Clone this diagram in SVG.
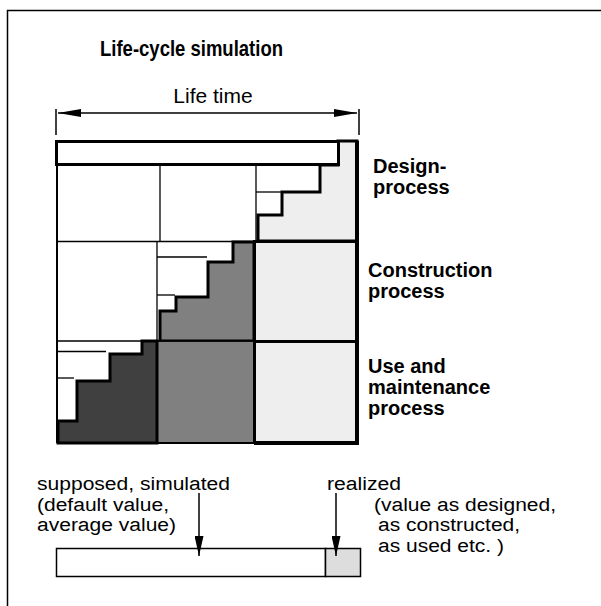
<svg xmlns="http://www.w3.org/2000/svg" width="601" height="606" viewBox="0 0 601 606">
<style>
text{font-family:"Liberation Sans",Arial,Helvetica,sans-serif;fill:#000}
.t{font-size:21px}
.s{font-size:18px}
.b{font-size:20px;font-weight:bold}
.ttl{font-size:22px;font-weight:bold}
.thin{stroke:#000;stroke-width:1.3}
.thick{stroke:#000;stroke-width:3;stroke-linejoin:miter}
.ln{stroke:#000;stroke-width:1.5}
</style>
<defs>
<marker id="ah" viewBox="0 0 20 9" refX="20" refY="4.5" markerWidth="20" markerHeight="9" markerUnits="userSpaceOnUse" orient="auto-start-reverse">
<path d="M0,0 L20,4.5 L0,9 Z" fill="#000"/>
</marker>
<marker id="ah2" viewBox="0 0 23 8" refX="23" refY="4" markerWidth="23" markerHeight="8" markerUnits="userSpaceOnUse" orient="auto-start-reverse">
<path d="M0,0 L23,4 L0,8 Z" fill="#000"/>
</marker>
</defs>
<rect x="0" y="0" width="601" height="606" fill="#fff"/>
<path d="M7.5,606 V10.5 H601" class="ln" fill="none"/>
<g id="title"><text x="100" y="56" class="ttl" textLength="183" lengthAdjust="spacingAndGlyphs">Life-cycle simulation</text></g>
<g id="lifetime">
<text x="213" y="103" class="t" text-anchor="middle">Life time</text>
<line x1="56" y1="109" x2="56" y2="135" class="ln"/>
<line x1="359" y1="109" x2="359" y2="135" class="ln"/>
</g>
<g id="grid">
<rect x="57" y="141" width="300" height="302" fill="#fff"/>
<g id="design-process">
<polygon points="338,141 357,141 357,241 258,241 258,215 282,215 282,192 320,192 320,165 338,165" fill="#eee" class="thick"/>
<line x1="160" y1="165" x2="160" y2="241" class="thin"/>
<line x1="256" y1="165" x2="256" y2="241" class="thin"/>
<line x1="256" y1="192" x2="282" y2="192" class="thin"/>
<rect x="56.5" y="141.5" width="282" height="23" fill="#fff" class="thick"/>
</g>
<g id="construction-process">
<line x1="57" y1="241.5" x2="256" y2="241.5" class="thin"/>
<polygon points="233,242 254,242 254,341 160,341 160,311 176,311 176,297 208,297 208,262 233,262" fill="#808080" class="thick"/>
<line x1="157" y1="257" x2="207" y2="257" class="thin"/>
<line x1="157" y1="295" x2="175" y2="295" class="thin"/>
<rect x="254.5" y="241.5" width="102" height="100" fill="#eee" class="thick"/>
</g>
<g id="use-process">
<rect x="157" y="341" width="97" height="102" fill="#808080" class="thin"/>
<line x1="57" y1="341" x2="254" y2="341" class="ln"/>
<polygon points="142,341 157,341 157,443 58,443 58,421 77,421 77,381 110,381 110,354 142,354" fill="#404040" class="thick"/>
<line x1="57" y1="351.5" x2="106" y2="351.5" class="thin"/>
<line x1="57" y1="378" x2="74" y2="378" class="thin"/>
<rect x="254.5" y="341.5" width="102" height="101" fill="#eee" class="thick"/>
</g>
<line x1="157" y1="241" x2="157" y2="443" class="thin"/>
<line x1="57" y1="141" x2="57" y2="443" stroke="#000" stroke-width="2"/>
<line x1="57" y1="443" x2="254" y2="443" stroke="#000" stroke-width="2"/>
<line x1="357" y1="141" x2="357" y2="445" stroke="#000" stroke-width="4"/>
<line x1="254" y1="443" x2="359" y2="443" stroke="#000" stroke-width="4"/>
</g>
<g id="labels">
<text class="b" x="373" y="173">Design-</text>
<text class="b" x="373" y="194">process</text>
<text class="b" x="368" y="277">Construction</text>
<text class="b" x="368" y="298">process</text>
<text class="b" x="368" y="373">Use and</text>
<text class="b" x="368" y="394">maintenance</text>
<text class="b" x="368" y="415">process</text>
</g>
<g id="legend-bar">
<rect x="56.5" y="548.5" width="269" height="28" fill="#fff" class="ln"/>
<rect x="325.5" y="548.5" width="35" height="28" fill="#ddd" class="ln"/>
</g>
<g id="legend-text">
<text class="s" x="37" y="490" textLength="193" lengthAdjust="spacingAndGlyphs">supposed, simulated</text>
<text class="s" x="37" y="510.5" textLength="132" lengthAdjust="spacingAndGlyphs">(default value,</text>
<text class="s" x="37" y="531" textLength="139" lengthAdjust="spacingAndGlyphs">average value)</text>
<text class="s" x="327" y="490" textLength="74" lengthAdjust="spacingAndGlyphs">realized</text>
<text class="s" x="374" y="510.5" textLength="182" lengthAdjust="spacingAndGlyphs">(value as designed,</text>
<text class="s" x="378" y="531" textLength="142" lengthAdjust="spacingAndGlyphs">as constructed,</text>
<text class="s" x="378" y="551.5" textLength="126" lengthAdjust="spacingAndGlyphs">as used etc. )</text>
</g>
<g id="connectors">
<line x1="58" y1="113" x2="357" y2="113" class="ln" marker-start="url(#ah2)" marker-end="url(#ah2)"/>
<line x1="199" y1="493" x2="199" y2="556" class="ln" marker-end="url(#ah)"/>
<line x1="336" y1="493" x2="336" y2="556" class="ln" marker-end="url(#ah)"/>
</g>
</svg>
